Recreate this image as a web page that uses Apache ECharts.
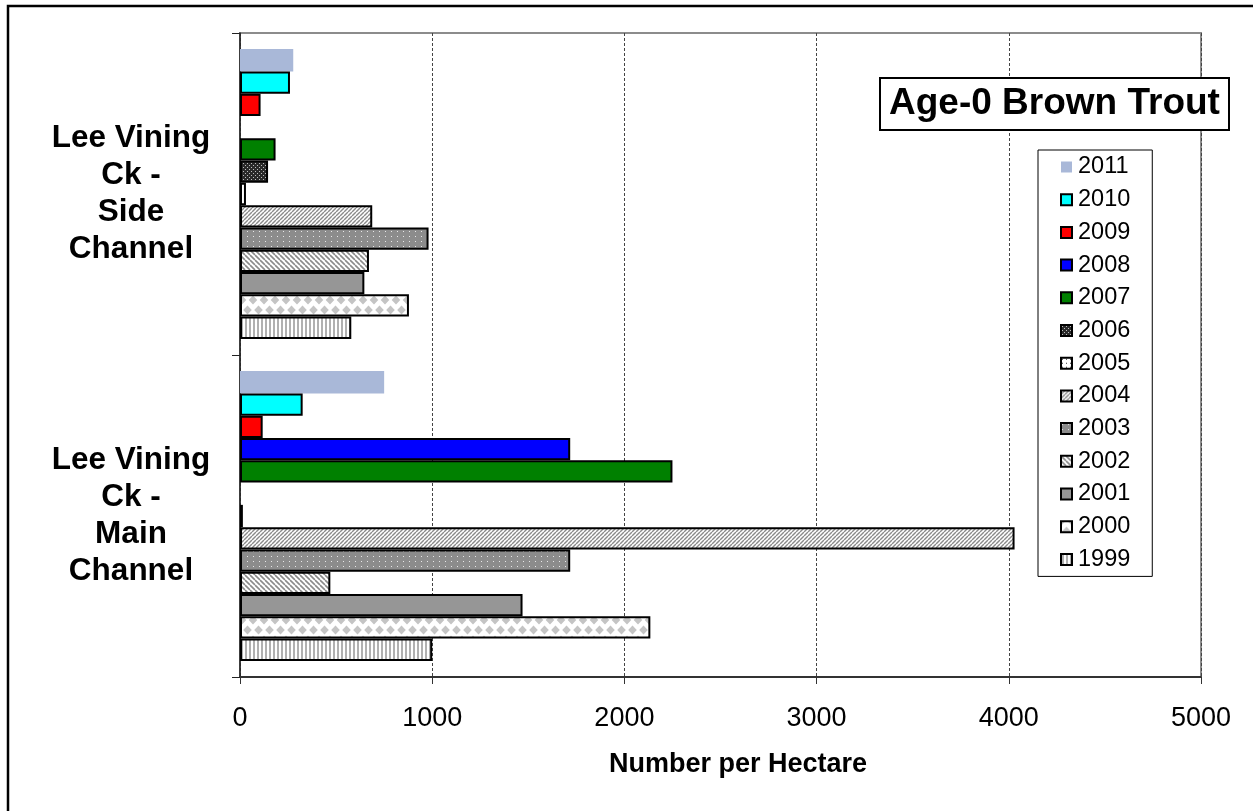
<!DOCTYPE html>
<html>
<head>
<meta charset="utf-8">
<style>
  html, body { margin: 0; padding: 0; background: #fff; }
  #chart { width: 1253px; height: 811px; }
</style>
<script src="https://cdn.jsdelivr.net/npm/echarts@6/dist/echarts.min.js"></script>
</head>
<body>
<div id="chart"></div>
<script>
// Sites (bottom to top on the axis)
const categories = ['Lee Vining\nCk -\nMain\nChannel', 'Lee Vining\nCk -\nSide\nChannel'];
// Survey years, newest first (drawn top to bottom within each site)
const years = ['2011', '2010', '2009', '2008', '2007', '2006', '2005', '2004', '2003', '2002', '2001', '2000', '1999'];
// Age-0 brown trout per hectare, one value per year (same order as years)
const mainChannel = [750, 326, 118, 1718, 2250, null, 15, 4030, 1718, 470, 1470, 2135, 1000];
const sideChannel = [277, 260, 107, null, 185, 146, 31, 688, 981, 671, 647, 879, 579];
const xTicks = [0, 1000, 2000, 3000, 4000, 5000];

// Small tiled fills for the hatched / dotted series
function tile(w, h, draw) {
  const c = document.createElement('canvas');
  c.width = w; c.height = h;
  const ctx = c.getContext('2d');
  draw(ctx, w, h);
  return { image: c, repeat: 'repeat' };
}
function diagonal(dir, period, bg, fg, lw) {
  return tile(period, period, (ctx, w, h) => {
    ctx.fillStyle = bg; ctx.fillRect(0, 0, w, h);
    ctx.strokeStyle = fg; ctx.lineWidth = lw;
    for (let k = -1; k <= 1; k++) {
      ctx.beginPath();
      if (dir > 0) { ctx.moveTo(k * w, h); ctx.lineTo(k * w + w, 0); }
      else { ctx.moveTo(k * w, 0); ctx.lineTo(k * w + w, h); }
      ctx.stroke();
    }
  });
}
function dots(w, h, bg, fg, pts) {
  return tile(w, h, (ctx) => {
    ctx.fillStyle = bg; ctx.fillRect(0, 0, w, h);
    ctx.fillStyle = fg;
    pts.forEach(p => ctx.fillRect(p[0], p[1], p[2] || 1, p[3] || 1));
  });
}
// staggered rows of grey diamonds
const diamonds = tile(11, 20, (ctx, w, h) => {
  ctx.fillStyle = '#fff'; ctx.fillRect(0, 0, w, h);
  ctx.fillStyle = '#c4c4c4';
  const rx = 4.3, ry = 4.6;
  [[0, 0], [11, 0], [0, 20], [11, 20], [5.5, 10]].forEach(([cx, cy]) => {
    ctx.beginPath();
    ctx.moveTo(cx, cy - ry); ctx.lineTo(cx + rx, cy); ctx.lineTo(cx, cy + ry); ctx.lineTo(cx - rx, cy);
    ctx.closePath(); ctx.fill();
  });
});
const vertical = tile(4, 4, (ctx, w, h) => {
  ctx.fillStyle = '#fff'; ctx.fillRect(0, 0, w, h);
  ctx.fillStyle = '#b0b0b0'; ctx.fillRect(1, 0, 2, h);
});

const fills = {
  '1999': vertical,
  '2000': diamonds,
  '2001': '#969696',
  '2002': diagonal(-1, 5, '#fff', '#8a8a8a', 1.6),
  '2003': dots(6, 5, '#8c8c8c', '#e8e8e8', [[1, 1]]),
  '2004': diagonal(1, 4, '#fff', '#8a8a8a', 1.4),
  '2005': dots(4, 4, '#fff', '#333', [[1, 1]]),
  '2006': dots(4, 4, '#2a2a2a', '#bdbdbd', [[1, 1], [3, 3]]),
  '2007': '#008000',
  '2008': '#0000ff',
  '2009': '#ff0000',
  '2010': '#00ffff',
  '2011': '#a9b8d8'
};

const series = years.map((yr, i) => ({
  name: yr,
  type: 'bar',
  barGap: '0%',
  barCategoryGap: '10%',
  data: [mainChannel[i], sideChannel[i]],
  itemStyle: {
    color: fills[yr],
    borderColor: yr === '2011' ? '#a9b8d8' : '#000',
    borderWidth: yr === '2011' ? 0 : 2
  },
  emphasis: { disabled: true }
}));

const chart = echarts.init(document.getElementById('chart'), null, { renderer: 'canvas' });
chart.setOption({
  animation: false,
  backgroundColor: '#fff',
  textStyle: { fontFamily: 'Liberation Sans, Arial, sans-serif', color: '#000' },
  title: {
    text: 'Age-0 Brown Trout',
    left: 880, top: 78,
    padding: [6, 9, 6, 9],
    borderColor: '#000', borderWidth: 2,
    backgroundColor: '#fff',
    textStyle: { fontSize: 37, fontWeight: 'bold', color: '#000', lineHeight: 40, fontFamily: 'Liberation Sans, Arial, sans-serif' }
  },
  legend: {
    orient: 'vertical',
    left: 1038, top: 150,
    padding: [5, 22, 5, 22],
    borderColor: '#000', borderWidth: 1,
    backgroundColor: '#fff',
    itemWidth: 11, itemHeight: 11,
    itemGap: 8.7,
    icon: 'rect',
    data: years,
    textStyle: { fontSize: 23.5, lineHeight: 22, color: '#000', padding: [0, 0, 0, 1] },
    selectedMode: false
  },
  grid: {
    left: 240, right: 52, top: 33, bottom: 134,
    show: true, borderColor: '#8c8c8c', borderWidth: 2, backgroundColor: 'transparent'
  },
  xAxis: {
    type: 'value',
    min: xTicks[0], max: xTicks[xTicks.length - 1], interval: 1000,
    name: 'Number per Hectare',
    nameLocation: 'middle',
    nameGap: 74,
    nameTextStyle: { fontSize: 27, fontWeight: 'bold', color: '#000', padding: [0, 0, 0, 35] },
    axisLine: { show: true, lineStyle: { color: '#333', width: 2 } },
    axisTick: { show: true, length: 7, lineStyle: { color: '#333', width: 1 } },
    axisLabel: { fontSize: 27, color: '#000', margin: 28, formatter: (v) => String(v) },
    splitLine: { show: true, lineStyle: { color: '#444', type: [3, 2], width: 1 } }
  },
  yAxis: {
    type: 'category',
    data: categories,
    axisLine: { show: true, lineStyle: { color: '#222', width: 1.5 } },
    axisTick: { show: true, length: 8, lineStyle: { color: '#222', width: 1 } },
    axisLabel: {
      fontSize: 31.5, fontWeight: 'bold', color: '#000',
      lineHeight: 37, align: 'center', margin: 109
    },
    splitLine: { show: false }
  },
  graphic: [{
    type: 'rect',
    shape: { x: 8, y: 6, width: 1400, height: 1000 },
    style: { fill: 'none', stroke: '#000', lineWidth: 2.5 },
    silent: true, z: 100
  }],
  series: series
});
</script>
</body>
</html>
